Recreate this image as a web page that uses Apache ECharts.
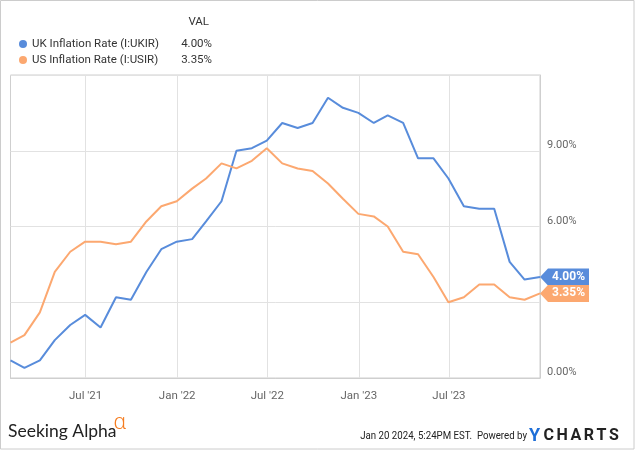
<!DOCTYPE html>
<html>
<head>
<meta charset="utf-8">
<script src="https://cdn.jsdelivr.net/npm/echarts@6/dist/echarts.min.js"></script>
<style>
html,body{margin:0;padding:0;background:#fff;}
#chart{width:635px;height:450px;}
</style>
</head>
<body>
<div id="chart"></div>
<script>
// Month-end dates (Jan 2021 .. Dec 2023)
const dates = [
 '2021-01-31','2021-02-28','2021-03-31','2021-04-30','2021-05-31','2021-06-30',
 '2021-07-31','2021-08-31','2021-09-30','2021-10-31','2021-11-30','2021-12-31',
 '2022-01-31','2022-02-28','2022-03-31','2022-04-30','2022-05-31','2022-06-30',
 '2022-07-31','2022-08-31','2022-09-30','2022-10-31','2022-11-30','2022-12-31',
 '2023-01-31','2023-02-28','2023-03-31','2023-04-30','2023-05-31','2023-06-30',
 '2023-07-31','2023-08-31','2023-09-30','2023-10-31','2023-11-30','2023-12-31'
];
const ukValues = [
 0.7,0.4,0.7,1.5,2.1,2.5,2.0,3.2,3.1,4.2,5.1,5.4,
 5.5,6.2,7.0,9.0,9.1,9.4,10.1,9.9,10.1,11.1,10.7,10.5,
 10.1,10.4,10.1,8.7,8.7,7.9,6.8,6.7,6.7,4.6,3.9,4.0
];
const usValues = [
 1.4,1.7,2.6,4.2,5.0,5.4,5.4,5.3,5.4,6.2,6.8,7.0,
 7.5,7.9,8.5,8.3,8.6,9.1,8.5,8.3,8.2,7.7,7.1,6.5,
 6.4,6.0,5.0,4.9,4.0,3.0,3.2,3.7,3.7,3.2,3.1,3.35
];
const seriesNames = ['UK Inflation Rate (I:UKIR)','US Inflation Rate (I:USIR)'];
const seriesColors = ['#588cdb','#fca870'];
const xTickDates = ['2021-07-01','2022-01-01','2022-07-01','2023-01-01','2023-07-01'];
const xTickLabels = ["Jul '21","Jan '22","Jul '22","Jan '23","Jul '23"];
const yTicks = [0,3,6,9,12];

const toTs = s => { const p = s.split('-').map(Number); return Date.UTC(p[0], p[1]-1, p[2]); };
const xTickTs = xTickDates.map(toTs);
const lastIdx = dates.length - 1;
const allValues = [ukValues, usValues];

const chart = echarts.init(document.getElementById('chart'), null, {renderer:'canvas'});

const tagPath = 'path://M0,8.5 L8,0 L49,0 L49,17 L8,17 Z';

const series = allValues.map((vals, k) => ({
  name: seriesNames[k],
  type: 'line',
  data: dates.map((d, i) => [toTs(d), vals[i]]),
  showSymbol: false,
  symbol: 'none',
  lineStyle: {width: 2, color: seriesColors[k]},
  itemStyle: {color: seriesColors[k]},
  z: 3,
  animation: false,
  markPoint: {
    symbol: tagPath,
    symbolSize: [49, 17],
    symbolKeepAspect: false,
    symbolOffset: [24.5, 0],
    silent: true,
    animation: false,
    itemStyle: {color: seriesColors[k]},
    label: {
      show: true,
      position: 'inside',
      offset: [4, 0],
      color: '#fff',
      fontWeight: 'bold',
      fontSize: 12,
      fontFamily: 'Roboto',
      formatter: p => p.value.toFixed(2) + '%'
    },
    data: [{coord: [toTs(dates[lastIdx]), vals[lastIdx]], value: vals[lastIdx]}]
  }
}));

const option = {
  animation: false,
  backgroundColor: '#fff',
  textStyle: {fontFamily: 'Roboto'},
  grid: {left: 10.5, top: 75, right: 95, bottom: 72, show: true, borderColor: '#cfcfcf', borderWidth: 1, containLabel: false},
  legend: {
    orient: 'vertical',
    left: 14,
    top: 32,
    icon: 'circle',
    itemWidth: 8,
    itemHeight: 8,
    itemGap: 2,
    selectedMode: false,
    data: seriesNames,
    textStyle: {
      fontFamily: 'Roboto', fontSize: 11.5, color: '#333', lineHeight: 14,
      rich: {
        n: {width: 140, fontFamily: 'Roboto', fontSize: 11.5, color: '#333'},
        v: {width: 40, align: 'right', fontFamily: 'Roboto', fontSize: 11.5, color: '#333'}
      }
    },
    formatter: name => {
      const k = seriesNames.indexOf(name);
      const v = allValues[k][lastIdx];
      return '{n|' + name + '}{v|' + v.toFixed(2) + '%}';
    }
  },
  xAxis: {
    type: 'value',
    min: toTs(dates[0]),
    max: toTs(dates[lastIdx]),
    axisLine: {show: true, lineStyle: {color: '#cfcfcf', width: 1}},
    axisTick: {show: false, customValues: xTickTs},
    splitLine: {show: true, lineStyle: {color: '#e2e2e2', width: 1}},
    axisLabel: {
      customValues: xTickTs,
      color: '#666', fontSize: 11.5, fontFamily: 'Roboto', margin: 12,
      formatter: v => { const i = xTickTs.indexOf(v); return i >= 0 ? xTickLabels[i] : ''; }
    }
  },
  yAxis: {
    type: 'value',
    position: 'right',
    min: yTicks[0],
    max: yTicks[yTicks.length-1],
    interval: 3,
    axisLine: {show: true, lineStyle: {color: '#cfcfcf', width: 1}},
    axisTick: {show: false},
    splitLine: {show: true, lineStyle: {color: '#e2e2e2', width: 1}},
    axisLabel: {
      color: '#666', fontSize: 11, fontFamily: 'Roboto', margin: 7,
      verticalAlign: 'bottom', showMaxLabel: false,
      formatter: v => v === yTicks[yTicks.length-1] ? '' : v.toFixed(2) + '%'
    }
  },
  graphic: [
    {type: 'rect', silent: true, z: 100, shape: {x: 0.5, y: 0.5, width: 633.5, height: 448.5}, style: {fill: 'none', stroke: '#cccccc', lineWidth: 1}},
    {type: 'text', x: 209, y: 22, style: {text: 'VAL', align: 'right', verticalAlign: 'middle', font: '11.5px Roboto', fill: '#333'}},
    {type: 'text', x: 8, y: 431, style: {text: 'Seeking Alpha', align: 'left', verticalAlign: 'middle', font: '17.5px Lato', fill: '#222'}},
    {type: 'text', x: 120, y: 423, style: {text: 'α', align: 'center', verticalAlign: 'middle', font: '300 21px "Noto Sans"', fill: '#f57c1f'}},
    {type: 'text', x: 527, y: 436, scaleX: 0.88, style: {text: 'Jan 20 2024, 5:24PM EST.  Powered by', align: 'right', verticalAlign: 'middle', font: '11px Roboto', fill: '#222'}},
    {type: 'text', x: 529, y: 436, style: {
      text: '{y|Y}{c|C}{c|H}{c|A}{c|R}{c|T}{c|S}', align: 'left', verticalAlign: 'middle',
      rich: {
        y: {font: 'bold 18px Roboto', fill: '#1f6fd8', padding: [0, 2, 0, 0]},
        c: {font: 'bold 16px Roboto', fill: '#222', padding: [0, 1.3, 0, 1.3]}
      }
    }}
  ],
  series: series
};
chart.setOption(option);
</script>
</body>
</html>
